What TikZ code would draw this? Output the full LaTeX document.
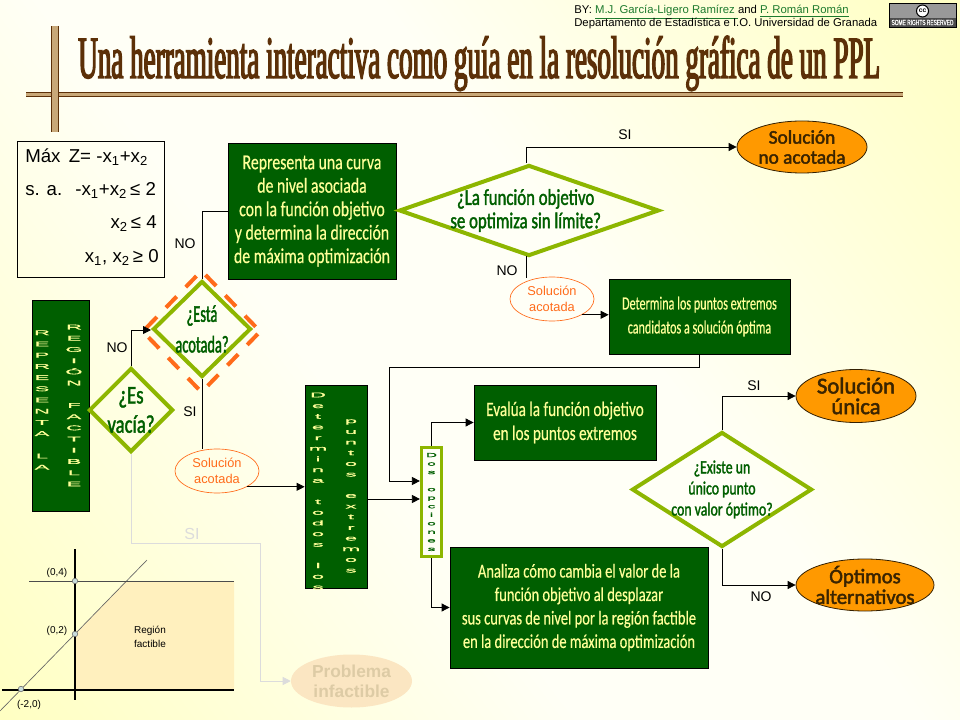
\documentclass[tikz,border=0pt]{standalone}
\usepackage{fontspec}
\usepackage{xcolor}
\setmainfont{Liberation Sans}
\newfontfamily\titlefont[FakeStretch=0.451,FakeBold=2.2]{Liberation Serif}
\newfontfamily\comicfont[FakeStretch=0.74,FakeBold=0.4]{Carlito}
\newfontfamily\comicslim[FakeStretch=0.65,FakeBold=0.4]{Carlito}
\newfontfamily\comicbold[FakeStretch=0.74,FakeBold=1.6]{Carlito}
\newfontfamily\comicthin[FakeStretch=0.6,FakeBold=1.6]{Carlito}
\newfontfamily\roundfont[FakeBold=2.2]{Carlito}
\newfontfamily\stackfont[FakeStretch=3.2,FakeBold=0.5]{Liberation Sans}
\newfontfamily\opcionfont[FakeStretch=2.6,FakeBold=1.5]{Liberation Sans}
\newfontfamily\narrowfont[FakeStretch=0.65,FakeBold=0.5]{Liberation Sans}
\usetikzlibrary{shapes.geometric,arrows.meta}
\definecolor{boxgreen}{HTML}{005F00}
\definecolor{boxtext}{HTML}{FFFF99}
\definecolor{limeline}{HTML}{8DB600}
\definecolor{dashorange}{HTML}{FF6B1A}
\definecolor{titlebrown}{HTML}{5C3008}
\definecolor{ruletan}{HTML}{C8A878}
\definecolor{resultorange}{HTML}{FF9900}
\definecolor{resulttext}{HTML}{3A2400}
\definecolor{linkgreen}{HTML}{1E7B2E}
\definecolor{paleline}{HTML}{DCDCDC}
\definecolor{palefill}{HTML}{FBE6C2}
\definecolor{paletext}{HTML}{DDCBA5}
\definecolor{regionfill}{HTML}{FFF0BE}
\definecolor{dotfill}{HTML}{C8DCDC}
\definecolor{bgedge}{HTML}{FFFFC2}
\definecolor{bgmid}{HTML}{FFFFF6}
\pgfdeclarehorizontalshading{bgshade}{100bp}{color(0bp)=(bgedge); color(15bp)=(bgedge); color(42bp)=(bgmid); color(58bp)=(bgmid); color(85bp)=(bgedge); color(100bp)=(bgedge)}
\def\px{0.75pt}
\tikzset{
  greenbox/.style={draw=black,fill=boxgreen,text=boxtext,line width=0.6pt,inner sep=0pt,align=center,
    font=\comicfont\fontsize{16}{17.6}\selectfont},
  decision/.style={diamond,draw=limeline,line width=3pt,inner sep=0pt},
  decisiontext/.style={text=boxgreen,align=center,inner sep=0pt,font=\comicbold\fontsize{15}{16}\selectfont},
  resultnode/.style={ellipse,draw=black!80!resultorange,fill=resultorange,line width=0.6pt,inner sep=0pt},
  resulttextstyle/.style={text=resulttext,align=center,inner sep=0pt,font=\roundfont\fontsize{14.5}{15}\selectfont},
  boundnode/.style={ellipse,draw=dashorange,line width=0.5pt,inner sep=0pt,minimum width=84*\px,minimum height=44*\px},
  boundtext/.style={text=dashorange,align=center,inner sep=0pt,font=\fontsize{9.6}{12}\selectfont},
  stacked/.style={text=boxtext,align=center,inner sep=0pt,font=\stackfont\fontsize{5.2}{#1}\selectfont},
  lab/.style={inner sep=0pt,font=\fontsize{10.5}{12}\selectfont},
  lpline/.style={inner sep=0pt,font=\fontsize{14}{16}\selectfont},
  small/.style={inner sep=0pt,font=\fontsize{7.5}{10}\selectfont},
  conn/.style={draw=black,line width=0.6pt},
  arr/.style={conn,-{Triangle[length=6pt,width=6pt]}},
  rulebar/.style={draw=titlebrown,line width=0.7pt,double=ruletan},
}
\begin{document}
\begin{tikzpicture}[x=0.75pt,y=-0.75pt]
  \useasboundingbox (0,0) rectangle (960,720);
  \shade[shading=bgshade,shading angle=37] (0,0) rectangle (960,720);

  % heading
  \draw[rulebar,double distance=2pt] (26,94.5)--(903,94.5);
  \draw[rulebar,double distance=4.2pt] (55,26)--(55,132);
  \node[anchor=base west,inner sep=0pt,text=titlebrown,font=\titlefont\fontsize{45}{46}\selectfont] (heading) at (78,78)
    {Una herramienta interactiva como guía en la resolución gráfica de un PPL};
  \node[anchor=base west,inner sep=0pt,font=\fontsize{8.5}{9}\selectfont] (authors) at (574,14)
    {BY: \textcolor{linkgreen}{\underline{M.J. García-Ligero Ramírez }}and \textcolor{linkgreen}{\underline{P. Román Román}}};
  \node[anchor=base west,inner sep=0pt,font=\fontsize{8.5}{9}\selectfont] (dept) at (574,27)
    {Departamento de Estadística e I.O. Universidad de Granada};

  % cc badge
  \node[draw=black,fill=black!40,minimum width=67*\px,minimum height=24*\px,inner sep=0pt] (badge) at (922.5,15) {};
  \node[fill=black!70,minimum width=66*\px,minimum height=9*\px,inner sep=0pt,text=white,font=\narrowfont\fontsize{5.6}{6}\selectfont] (badgetext) at (922.5,22.5) {SOME RIGHTS RESERVED};
  \node[circle,draw=black,line width=0.8pt,fill=white,minimum size=12*\px,inner sep=0pt,font=\bfseries\fontsize{5}{5}\selectfont] (badgecc) at (922.5,11) {cc};

  % model
  \node[draw=black,line width=0.6pt,minimum width=147*\px,minimum height=136*\px,inner sep=0pt] (model) at (90.5,209) {};
  \node[lpline,anchor=base west] (lpa) at (25,163) {Máx\, Z= -x\textsubscript{1}+x\textsubscript{2}};
  \node[lpline,anchor=base west] (lpb) at (25,196) {s. a.\,\, -x\textsubscript{1}+x\textsubscript{2}\,≤ 2};
  \node[lpline,anchor=base east] (lpc) at (157,229) {x\textsubscript{2}\,≤ 4};
  \node[lpline,anchor=base east] (lpd) at (159,263) {x\textsubscript{1}, x\textsubscript{2}\,≥ 0};

  % green boxes
  \node[greenbox,minimum width=168*\px,minimum height=136*\px] (curva) at (312,211)
    {Representa una curva\\de nivel asociada\\con la función objetivo\\y determina la dirección\\de máxima optimización};
  \node[greenbox,minimum width=181*\px,minimum height=75*\px,font=\comicslim\fontsize{14}{18}\selectfont] (extremos) at (699.5,316.5)
    {Determina los puntos extremos\\candidatos a solución óptima};
  \node[greenbox,minimum width=182*\px,minimum height=75*\px,font=\comicfont\fontsize{15.4}{18}\selectfont] (evalua) at (565,422.5)
    {Evalúa la función objetivo\\en los puntos extremos};
  \node[greenbox,minimum width=258*\px,minimum height=121*\px,font=\comicfont\fontsize{14.7}{17.6}\selectfont] (analiza) at (579,607.5)
    {Analiza cómo cambia el valor de la\\función objetivo al desplazar\\sus curvas de nivel por la región factible\\en la dirección de máxima optimización};
  \node[greenbox,minimum width=57*\px,minimum height=211*\px] (region) at (60.5,405.5) {};
  \node[stacked=8.4] (regiona) at (42,400) {R\\E\\P\\R\\E\\S\\E\\N\\T\\A\\~\\L\\A};
  \node[stacked=8.4] (regionb) at (74,405.5) {R\\E\\G\\I\\Ó\\N\\~\\F\\A\\C\\T\\I\\B\\L\\E};
  \node[greenbox,minimum width=62*\px,minimum height=203*\px] (todos) at (336,486.5) {};
  \node[stacked=8] (todosa) at (318,491) {D\\e\\t\\e\\r\\m\\i\\n\\a\\~\\t\\o\\d\\o\\s\\~\\l\\o\\s};
  \node[stacked=8] (todosb) at (351,496) {p\\u\\n\\t\\o\\s\\~\\e\\x\\t\\r\\e\\m\\o\\s};

  % two ways
  \node[draw=limeline,line width=2.4pt,minimum width=20*\px,minimum height=109*\px,inner sep=0pt] (opciones) at (431.5,502) {};
  \node[text=boxgreen,align=center,inner sep=0pt,font=\opcionfont\fontsize{4.4}{6.4}\selectfont] (opcionest) at (431.5,502)
    {D\\o\\s\\~\\o\\p\\c\\i\\o\\n\\e\\s};

  % decisions
  \node[decision,minimum width=84*\px,minimum height=84*\px,label={[decisiontext,font=\comicbold\fontsize{19}{22}\selectfont]center:{¿Es\\vacía?}}] (vacia) at (131,410) {};
  \node[decision,minimum width=98*\px,minimum height=96*\px,label={[decisiontext,font=\comicthin\fontsize{18}{23}\selectfont]center:{¿Está\\acotada?}}] (acotada) at (202,329) {};
  \node[diamond,draw=dashorange,line width=3pt,dash pattern=on 11.5pt off 9.8pt,dash phase=16.4pt,inner sep=0pt,minimum width=119*\px,minimum height=123*\px] (acotadaring) at (201.5,331.5) {};
  \node[decision,minimum width=260*\px,minimum height=91*\px,label={[decisiontext,xshift=-2.5pt,font=\comicbold\fontsize{17}{17.5}\selectfont]center:{¿La función objetivo\\se optimiza sin límite?}}] (optimiza) at (529,210.5) {};
  \node[decision,minimum width=180*\px,minimum height=115*\px,label={[decisiontext,font=\comicbold\fontsize{14}{15.8}\selectfont]center:{¿Existe un\\único punto\\con valor óptimo?}}] (existe) at (722,489.5) {};

  % results
  \node[resultnode,minimum width=130*\px,minimum height=52*\px,label={[resulttextstyle]center:{Solución\\no acotada}}] (noacotada) at (802,147) {};
  \node[resultnode,minimum width=120*\px,minimum height=53*\px,label={[resulttextstyle,font=\roundfont\fontsize{17}{15.5}\selectfont]center:{Solución\\única}}] (unica) at (856,396) {};
  \node[resultnode,minimum width=138*\px,minimum height=52*\px,label={[resulttextstyle,font=\roundfont\fontsize{15.5}{15.5}\selectfont]center:{Óptimos\\alternativos}}] (alternativos) at (865,585) {};
  \node[boundnode,label={[boundtext]center:{Solución\\acotada}}] (cotaa) at (552,299) {};
  \node[boundnode,label={[boundtext]center:{Solución\\acotada}}] (cotab) at (217,471) {};
  \node[ellipse,fill=palefill,draw=none,inner sep=0pt,minimum width=121*\px,minimum height=53*\px,label={[text=paletext,align=center,inner sep=0pt,font=\bfseries\fontsize{13}{15}\selectfont]center:{Problema\\infactible}}] (infactible) at (351.5,681) {};

  % corners of the connectors
  \coordinate (bendno) at (131,330);
  \coordinate (bendcurva) at (202,211);
  \coordinate (bendleft) at (389,367);
  \coordinate (bendpalea) at (131,543);
  \coordinate (bendpaleb) at (260,543);
  \coordinate (bendpalec) at (260,681);

  \draw[draw=paleline,line width=0.6pt,-{Triangle[length=6pt,width=6pt]}] (vacia.south)--(bendpalea)--(bendpaleb)--(bendpalec)--(infactible.west);
  \draw[arr] (vacia.north)--(bendno)--(bendno-|acotada.west);
  \draw[conn] (acotada.north)--(bendcurva)--(curva.west);
  \draw[conn] (acotada.south)--(acotada.south|-cotab.north);
  \draw[arr] (cotab.south east)--(cotab.south east-|todos.west);
  \draw[arr] (todos.east|-0,499)--(opciones.west|-0,499);
  \draw[arr] (optimiza.north-|526,0)|-(noacotada.west);
  \draw[conn] (526,256)--(526,278);
  \draw[arr] (cotaa.south east)--(cotaa.south east-|extremos.west);
  \draw[arr] (extremos.south)--(bendleft-|extremos.south)--(bendleft)--(389,481)--(opciones.west|-0,481);
  \draw[arr] (opciones.north)|-(evalua.west);
  \draw[arr] (opciones.south)|-(analiza.west);
  \draw[arr] (existe.north)|-(unica.west);
  \draw[arr] (existe.south)|-(alternativos.west);

  \node[lab] (sia) at (625,135) {SI};
  \node[lab] (noa) at (507,271) {NO};
  \node[lab] (nob) at (185,244) {NO};
  \node[lab] (noc) at (117,348) {NO};
  \node[lab] (sib) at (190,412) {SI};
  \node[lab,text=paleline,font=\fontsize{12}{12}\selectfont] (sic) at (192,534) {SI};
  \node[lab] (sid) at (754,386) {SI};
  \node[lab] (nod) at (761,597) {NO};

  % region sketch
  \fill[regionfill] (75,634)--(126,581)--(234,581)--(234,690)--(75,690)--cycle;
  \draw[black!60,line width=0.5pt] (0,711)--(147,560);
  \draw[black!70,line width=0.7pt] (29,581)--(234,581);
  \draw[black,line width=1pt] (75,549)--(75,700);
  \draw[black,line width=1pt] (2,690)--(234,690);
  \node[circle,draw=black!60,fill=dotfill,line width=0.4pt,minimum size=5.5*\px,inner sep=0pt] (pa) at (75,581) {};
  \node[circle,draw=black!60,fill=dotfill,line width=0.4pt,minimum size=5.5*\px,inner sep=0pt] (pb) at (75,634) {};
  \node[circle,draw=black!60,fill=dotfill,line width=0.4pt,minimum size=5.5*\px,inner sep=0pt] (pc) at (21,689) {};
  \node[small] (paname) at (57,573) {(0,4)};
  \node[small] (pbname) at (57,631) {(0,2)};
  \node[small] (pcname) at (29,705) {(-2,0)};
  \node[small,align=center] (regionname) at (150,637) {Región\\factible};
\end{tikzpicture}
\end{document}
